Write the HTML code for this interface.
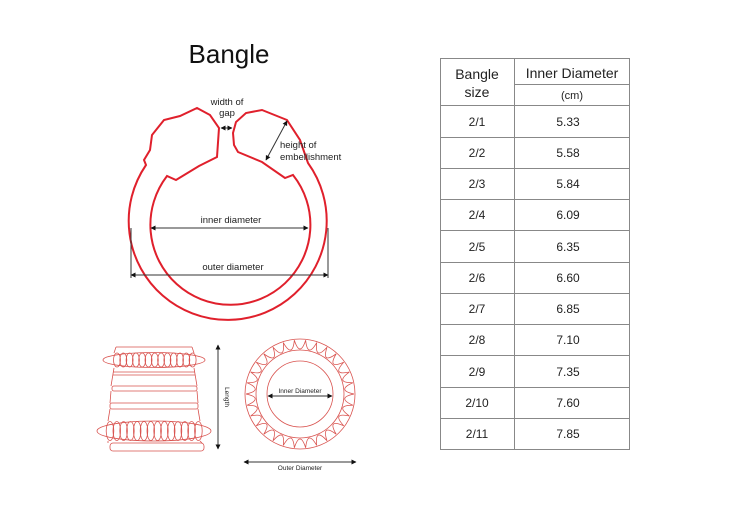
<!DOCTYPE html>
<html><head><meta charset="utf-8"><style>
body{margin:0;background:#fff;}
svg{display:block;font-family:"Liberation Sans",sans-serif;}
</style></head><body>
<svg id="s" width="740" height="523" viewBox="0 0 740 523" xmlns="http://www.w3.org/2000/svg">
<defs>
<marker id="a" viewBox="0 0 10 10" refX="9" refY="5" markerWidth="5" markerHeight="5" orient="auto-start-reverse"><path d="M0,0L10,5L0,10z" fill="#111"/></marker>
</defs>
<text x="229" y="63" font-size="26" text-anchor="middle" fill="#111">Bangle</text>
<path d="M308,163 L300,140 L287,120 L262,110 L246,113 L236,122 L233,133 L234,145 L238,152 L262,162 L285,178 L293,175 A80,80 0 1 1 167,176 L176,180 L199,166 L217,157 L219,128 L210,115 L197,108 L180,116 L164,120 L152,135 L150,150 L144,160 L146,165 A99,99 0 1 0 308,163 Z" fill="none" stroke="#e0202c" stroke-width="2"/>
<g stroke="#333" stroke-width="1" fill="none">
<line x1="221" y1="128" x2="232" y2="128" marker-start="url(#a)" marker-end="url(#a)"/>
<line x1="287" y1="121" x2="266" y2="160" marker-start="url(#a)" marker-end="url(#a)"/>
<line x1="151" y1="228" x2="308" y2="228" marker-start="url(#a)" marker-end="url(#a)"/>
<line x1="131" y1="275" x2="328" y2="275" marker-start="url(#a)" marker-end="url(#a)"/>
<line x1="131" y1="228" x2="131" y2="278"/><line x1="328" y1="228" x2="328" y2="278"/>
</g>
<g font-size="9.5" fill="#222">
<text x="227" y="105" text-anchor="middle">width of</text>
<text x="227" y="116" text-anchor="middle">gap</text>
<text x="280" y="148">height of</text>
<text x="280" y="160">embellishment</text>
<text x="231" y="223" text-anchor="middle">inner diameter</text>
<text x="233" y="270" text-anchor="middle">outer diameter</text>
</g>
<g id="drum" stroke="#d9534f" stroke-width="0.8" fill="none">
<path d="M116,347 L192,347 M116,347 L114,353 M192,347 L194,353 M114,368 L111,386 M194,368 L197,386 M113,372 L195,372 M113,375 L195,375 M111,391 L110,403 M197,391 L198,403 M110,409 L108,421 M198,409 L200,421"/>
<rect x="112" y="386" width="85" height="5" rx="2"/>
<rect x="110" y="403" width="88" height="6" rx="2"/>
<ellipse cx="154" cy="360" rx="51" ry="7.5"/>
<ellipse cx="154" cy="431" rx="57" ry="10"/>
<rect x="110" y="443" width="94" height="8" rx="3"/>
<path d="M108,441 L108,443 M200,441 L202,443"/>
</g>
<g id="circ" stroke="#d9534f" stroke-width="0.8" fill="none">
<circle cx="300" cy="394" r="55"/>
<circle cx="300" cy="394" r="44"/>
<circle cx="300" cy="394" r="33"/>
</g>
<g stroke="#333" stroke-width="1">
<line x1="218" y1="345" x2="218" y2="449" marker-start="url(#a)" marker-end="url(#a)"/>
<line x1="268" y1="396" x2="332" y2="396" marker-start="url(#a)" marker-end="url(#a)"/>
<line x1="244" y1="462" x2="356" y2="462" marker-start="url(#a)" marker-end="url(#a)"/>
</g>
<text x="300" y="393" font-size="6.5" text-anchor="middle" fill="#222">Inner Diameter</text>
<text x="300" y="470" font-size="6.5" text-anchor="middle" fill="#222">Outer Diameter</text>
<text x="0" y="0" font-size="6.5" fill="#222" transform="translate(225,397) rotate(90)" text-anchor="middle">Length</text>
<g stroke="#888" stroke-width="1" fill="none">
<rect x="440.5" y="58.5" width="189" height="391"/>
<line x1="514.5" y1="58" x2="514.5" y2="449"/>
<line x1="514" y1="84.5" x2="630" y2="84.5"/>
<line x1="440" y1="105.5" x2="630" y2="105.5"/>
<line x1="440" y1="137.5" x2="630" y2="137.5"/>
<line x1="440" y1="168.5" x2="630" y2="168.5"/>
<line x1="440" y1="199.5" x2="630" y2="199.5"/>
<line x1="440" y1="230.5" x2="630" y2="230.5"/>
<line x1="440" y1="262.5" x2="630" y2="262.5"/>
<line x1="440" y1="293.5" x2="630" y2="293.5"/>
<line x1="440" y1="324.5" x2="630" y2="324.5"/>
<line x1="440" y1="355.5" x2="630" y2="355.5"/>
<line x1="440" y1="387.5" x2="630" y2="387.5"/>
<line x1="440" y1="418.5" x2="630" y2="418.5"/>
</g>
<g fill="#222" text-anchor="middle">
<text x="477" y="79" font-size="14">Bangle</text>
<text x="477" y="97" font-size="14">size</text>
<text x="572" y="78" font-size="14">Inner Diameter</text>
<text x="572" y="99" font-size="11">(cm)</text>
</g>
<g fill="#222" text-anchor="middle" font-size="12">
<text x="477" y="126">2/1</text><text x="568" y="126">5.33</text>
<text x="477" y="157">2/2</text><text x="568" y="157">5.58</text>
<text x="477" y="188">2/3</text><text x="568" y="188">5.84</text>
<text x="477" y="219">2/4</text><text x="568" y="219">6.09</text>
<text x="477" y="251">2/5</text><text x="568" y="251">6.35</text>
<text x="477" y="282">2/6</text><text x="568" y="282">6.60</text>
<text x="477" y="313">2/7</text><text x="568" y="313">6.85</text>
<text x="477" y="344">2/8</text><text x="568" y="344">7.10</text>
<text x="477" y="376">2/9</text><text x="568" y="376">7.35</text>
<text x="477" y="407">2/10</text><text x="568" y="407">7.60</text>
<text x="477" y="438">2/11</text><text x="568" y="438">7.85</text>
</g>
</svg>
<script>
(function(){
var ns="http://www.w3.org/2000/svg";
var d=document.getElementById("drum"),c=document.getElementById("circ");
function el(p,t,a){var e=document.createElementNS(ns,t);for(var k in a)e.setAttribute(k,a[k]);p.appendChild(e);}
for(var i=0;i<13;i++)el(d,"ellipse",{cx:117+i*6.3,cy:360,rx:3.5,ry:7});
for(var i=0;i<14;i++)el(d,"ellipse",{cx:110+i*6.8,cy:431,rx:3.8,ry:9.5});
for(var i=0;i<30;i++){var t=i*Math.PI*2/30,t2=(i+1)*Math.PI*2/30;
var x1=300+54*Math.cos(t),y1=394+54*Math.sin(t),x2=300+54*Math.cos(t2),y2=394+54*Math.sin(t2);
var tm=(t+t2)/2,xm=300+45*Math.cos(tm),ym=394+45*Math.sin(tm);
el(c,"path",{d:"M"+x1+","+y1+" Q"+(2*xm-(x1+x2)/2)+","+(2*ym-(y1+y2)/2)+" "+x2+","+y2});}
})();
</script>
</body></html>
